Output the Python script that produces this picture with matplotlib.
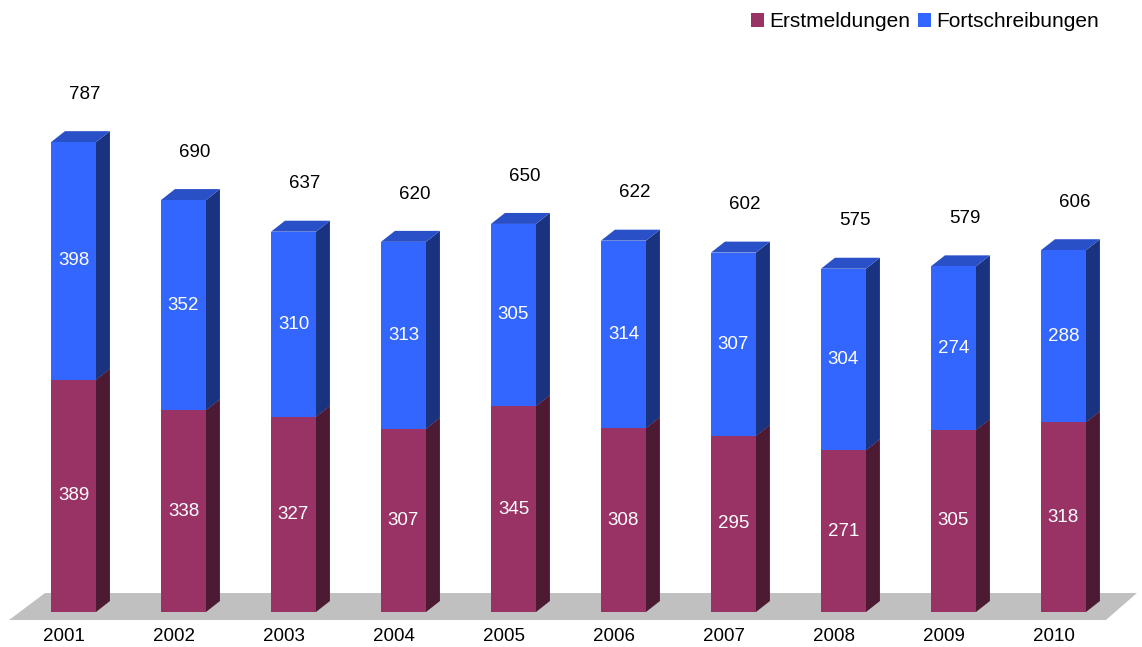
import numpy as np
import matplotlib
matplotlib.use("Agg")
import matplotlib.pyplot as plt
from matplotlib.patches import Polygon, Patch

plt.rcParams['font.family'] = ['Liberation Sans', 'DejaVu Sans']

years = ["2001", "2002", "2003", "2004", "2005", "2006", "2007", "2008", "2009", "2010"]
erst = [389, 338, 327, 307, 345, 308, 295, 271, 305, 318]
fort = [398, 352, 310, 313, 305, 314, 307, 304, 274, 288]
totals = [787, 690, 637, 620, 650, 622, 602, 575, 579, 606]

c_erst = "#993366"
c_erst_side = "#4d1a33"
c_erst_top = "#7a2952"
c_fort = "#3366ff"
c_fort_side = "#1a3380"
c_fort_top = "#2a50c8"

fig = plt.figure(figsize=(11.42, 6.47), dpi=100)
ax = fig.add_axes([0, 0, 1, 1])
ax.set_xlim(-0.668, 9.714)
ax.set_ylim(-58.6, 1025.1)
ax.axis("off")

x = np.arange(len(years))
w = 0.409
dx = 0.127   # depth offset in x
dy = 18.4    # depth offset in y

# floor
floor = Polygon([(-0.586, -13.4), (9.386, -13.4), (9.668, 31.8), (-0.259, 31.8)],
                closed=True, facecolor="#c0c0c0", edgecolor="none", zorder=1)
ax.add_patch(floor)

def box(ax, xc, bottom, height, front, side, top):
    l = xc - w / 2
    r = xc + w / 2
    t = bottom + height
    ax.bar(xc, height, w, bottom=bottom, color=front, zorder=3)
    ax.add_patch(Polygon([(r, bottom), (r + dx, bottom + dy), (r + dx, t + dy), (r, t)],
                         closed=True, facecolor=side, edgecolor="none", zorder=2))
    ax.add_patch(Polygon([(l, t), (r, t), (r + dx, t + dy), (l + dx, t + dy)],
                         closed=True, facecolor=top, edgecolor="none", zorder=2))

fs = 13.5
for i in range(len(years)):
    box(ax, x[i], 0, erst[i], c_erst, c_erst_side, c_erst_top)
    box(ax, x[i], erst[i], fort[i], c_fort, c_fort_side, c_fort_top)
    ax.text(x[i], erst[i] / 2, str(erst[i]), color="white", fontsize=fs,
            ha="center", va="center", zorder=5)
    ax.text(x[i], erst[i] + fort[i] / 2, str(fort[i]), color="white", fontsize=fs,
            ha="center", va="center", zorder=5)
    ax.text(x[i] + 0.1, totals[i] + 80, str(totals[i]), color="black", fontsize=fs,
            ha="center", va="center", zorder=5)
    ax.text(x[i] - 0.09, -41, years[i], color="black", fontsize=fs,
            ha="center", va="center", zorder=5)

handles = [Patch(facecolor=c_erst, label="Erstmeldungen"),
           Patch(facecolor=c_fort, label="Fortschreibungen")]
fig.legend(handles=handles, loc="upper right", bbox_to_anchor=(1107 / 1142, 1 - 4 / 647),
           ncol=2, frameon=False, fontsize=15, handlelength=0.6, handleheight=0.6,
           handletextpad=0.25, columnspacing=0.4, borderaxespad=0)

fig.savefig("out.png", dpi=100)
